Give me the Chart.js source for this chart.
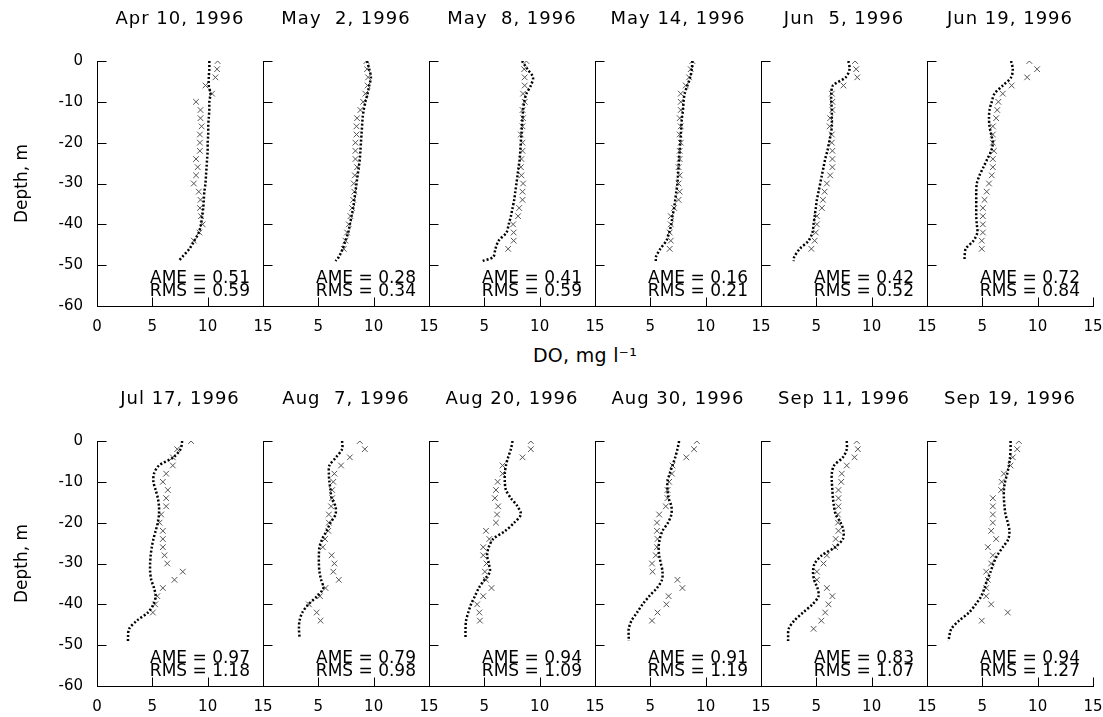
<!DOCTYPE html>
<html><head><meta charset="utf-8">
<script src="https://cdn.jsdelivr.net/npm/chart.js@4.4.1/dist/chart.umd.min.js"></script>
<style>
html,body{margin:0;padding:0;background:#fff;}
#wrap{position:relative;width:1103px;height:717px;overflow:hidden;background:#fff;}
#wrap canvas{position:absolute;}
#xtitle{position:absolute;left:585px;top:343px;transform:translateX(-50%);font:19px "DejaVu Sans";line-height:24px;color:#000;white-space:nowrap;letter-spacing:0.3px;}
</style></head><body><div id="wrap"><div id="xtitle">DO, mg l⁻¹</div></div>
<script>
const panelTitles = ["Apr 10, 1996","May  2, 1996","May  8, 1996","May 14, 1996","Jun  5, 1996","Jun 19, 1996",
                     "Jul 17, 1996","Aug  7, 1996","Aug 20, 1996","Aug 30, 1996","Sep 11, 1996","Sep 19, 1996"];
const ameValues = ["0.51","0.28","0.41","0.16","0.42","0.72","0.97","0.79","0.94","0.91","0.83","0.94"];
const rmsValues = ["0.59","0.34","0.59","0.21","0.52","0.84","1.18","0.98","1.09","1.19","1.07","1.27"];
const xTicks = [0,5,10,15];
const yTicks = [0,-10,-20,-30,-40,-50,-60];
const modelDepths = [0,-2,-4,-6,-8,-10,-12,-14,-16,-18,-20,-22,-24,-26,-28,-30,-32,-34,-36,-38,-40,-42,-44,-46,-48,-49];
const obsDepths = [0,-2,-4,-6,-8,-10,-12,-14,-16,-18,-20,-22,-24,-26,-28,-30,-32,-34,-36,-38,-40,-42,-44,-46];

const apr10Model = [10.15,10.15,10.1,10.1,10.25,10.15,10.15,10.1,10.05,10.05,10.0,10.0,9.95,9.9,9.85,9.8,9.7,9.65,9.6,9.5,9.4,9.2,8.8,8.35,7.7,7.35];
const may2Model  = [9.4,9.6,9.75,9.6,9.45,9.25,9.1,9.0,8.95,8.9,8.85,8.8,8.75,8.65,8.55,8.45,8.35,8.25,8.15,8.0,7.85,7.7,7.45,7.2,6.85,6.55];
const may8Model  = [8.4,8.9,9.4,9.2,8.8,8.6,8.5,8.45,8.4,8.35,8.3,8.25,8.2,8.1,8.0,7.9,7.8,7.7,7.55,7.4,7.2,7.0,6.3,6.0,5.8,4.8];
const may14Model = [8.8,8.75,8.6,8.35,8.1,8.0,7.95,7.85,7.8,7.75,7.7,7.65,7.6,7.55,7.5,7.45,7.35,7.25,7.15,7.0,6.9,6.7,6.45,5.9,5.5,5.5];
const jun5Model  = [7.9,8.0,7.65,6.5,6.35,6.35,6.4,6.4,6.4,6.3,6.15,6.0,5.8,5.65,5.5,5.35,5.2,5.05,4.95,4.85,4.75,4.65,4.3,3.5,3.0,2.95];
const jun19Model = [7.6,7.75,7.6,6.85,6.1,5.85,5.65,5.6,5.65,5.8,5.95,5.8,5.45,5.1,4.75,4.5,4.45,4.45,4.45,4.45,4.5,4.55,4.2,3.5,3.4,3.4];
const jul17Model = [7.7,7.55,6.9,5.6,5.15,5.1,5.3,5.5,5.6,5.6,5.5,5.3,5.1,4.95,4.85,4.8,4.8,4.9,5.15,5.3,5.1,4.6,3.6,2.9,2.8,2.8];
const aug7Model  = [7.15,7.15,6.6,6.0,5.95,6.0,6.1,6.2,6.55,6.55,6.1,5.75,5.35,5.1,5.05,5.05,5.1,5.25,5.45,4.9,4.1,3.55,3.3,3.25,3.3,null];
const aug20Model = [7.55,7.4,7.15,6.95,6.85,6.85,6.95,7.4,8.0,8.3,7.7,6.9,5.8,5.4,5.25,5.4,5.5,5.0,4.5,4.15,3.8,3.55,3.35,3.3,3.3,null];
const aug30Model = [7.6,7.45,7.25,7.0,6.75,6.55,6.55,6.65,6.9,6.9,6.6,6.1,5.85,5.75,5.8,5.95,6.1,6.05,5.6,4.9,4.3,3.8,3.3,3.05,3.05,3.05];
const sep11Model = [7.75,7.75,7.4,6.6,6.4,6.4,6.45,6.5,6.6,6.75,7.2,7.45,7.4,6.7,5.5,4.85,4.7,4.8,5.1,5.2,4.65,3.8,3.0,2.5,2.45,2.45];
const sep19Model = [7.55,7.55,7.5,7.4,7.25,7.05,6.95,6.95,7.0,7.1,7.3,7.45,7.35,6.85,6.35,6.0,5.75,5.45,5.2,4.9,4.4,3.8,2.9,2.2,2.0,1.95];

const apr10Obs = [10.9,10.85,10.7,9.8,10.4,8.95,9.35,9.35,9.45,9.3,9.3,9.3,8.95,9.1,8.95,8.75,9.2,9.35,9.3,9.4,9.55,9.25,8.75,null];
const may2Obs  = [9.35,9.4,9.5,9.45,9.25,9.05,8.8,8.5,8.45,8.45,8.35,8.35,8.35,8.5,8.3,8.2,8.25,8.15,8.05,7.9,7.75,7.6,7.45,7.3];
const may8Obs  = [8.8,8.6,8.65,8.65,8.5,8.65,8.45,8.5,8.45,8.3,8.45,8.45,8.35,8.3,8.35,8.5,8.45,8.45,8.15,8.05,7.6,7.65,7.65,7.15];
const may14Obs = [8.8,8.65,8.5,8.2,7.75,7.75,7.75,7.65,7.75,7.65,7.75,7.65,7.65,7.55,7.65,7.55,7.65,7.55,7.15,6.85,6.85,6.75,6.85,6.75];
const jun5Obs  = [8.5,8.6,8.7,7.45,6.4,6.45,6.45,6.25,6.2,6.4,6.4,6.45,6.45,6.45,6.25,5.95,5.75,5.6,5.5,5.05,5.05,4.95,4.85,4.55];
const jun19Obs = [9.25,9.95,9.05,7.65,6.85,6.45,6.35,6.25,5.95,5.95,5.95,6.05,5.95,5.95,5.85,5.6,5.4,5.2,5.05,5.05,5.05,5.05,4.95,4.95];
const jul17Obs = [8.5,7.25,6.85,6.85,6.25,5.95,6.4,6.25,6.25,5.8,5.65,5.95,5.95,5.95,6.1,6.35,7.75,7.0,5.95,5.45,5.25,5.05,null,null];
const aug7Obs  = [8.75,9.2,7.85,7.05,6.45,6.35,6.25,6.25,6.15,5.95,5.95,5.9,5.6,5.4,6.2,6.45,6.35,6.85,5.65,5.15,4.15,4.85,5.2,null];
const aug20Obs = [9.2,9.2,8.45,6.65,6.65,6.2,6.05,5.95,6.25,6.15,6.05,5.15,5.45,4.9,4.9,5.2,5.05,5.15,5.65,4.9,4.35,4.55,4.6,null];
const aug30Obs = [9.2,8.95,8.25,7.0,6.95,6.7,6.55,6.55,6.4,5.8,5.6,5.6,5.65,5.6,5.5,5.15,5.2,7.45,7.9,6.65,6.45,5.65,5.15,null];
const sep11Obs = [8.65,8.75,8.45,7.75,7.3,7.25,7.0,7.0,7.0,6.95,6.95,7.0,6.75,6.7,5.95,5.65,5.05,5.05,5.95,6.45,6.1,5.8,5.45,4.75];
const sep19Obs = [8.3,8.15,7.75,7.55,6.95,6.75,6.7,5.95,5.95,5.95,5.95,5.8,6.25,5.5,5.95,5.8,5.35,5.5,5.35,5.35,5.8,7.3,4.95,null];

const modelSeries = [apr10Model,may2Model,may8Model,may14Model,jun5Model,jun19Model,jul17Model,aug7Model,aug20Model,aug30Model,sep11Model,sep19Model];
const obsSeries = [apr10Obs,may2Obs,may8Obs,may14Obs,jun5Obs,jun19Obs,jul17Obs,aug7Obs,aug20Obs,aug30Obs,sep11Obs,sep19Obs];

const FONT = '"DejaVu Sans", sans-serif';
const PANEL_W = 166, PANEL_H = 245, X0 = 97, ROW_TOP = [61, 441];
const PT = 55, PR = 30, XH = 38, TICK = 9;

const panelText = {
  id: 'panelText',
  afterDraw(chart, args, opts) {
    const ctx = chart.ctx, ca = chart.chartArea;
    ctx.save();
    // inward tick marks at the scale's tick values
    ctx.strokeStyle = '#000';
    ctx.lineWidth = 1;
    ctx.beginPath();
    const xs = chart.scales.x, ys = chart.scales.y;
    const by = Math.round(ca.bottom) + 0.5, lx = Math.round(ca.left) + 0.5;
    xs.ticks.forEach(t => {
      const px = Math.round(xs.getPixelForValue(t.value)) + 0.5;
      ctx.moveTo(px, by); ctx.lineTo(px, by - TICK);
    });
    ys.ticks.forEach(t => {
      const py = Math.round(ys.getPixelForValue(t.value)) + 0.5;
      ctx.moveTo(lx, py); ctx.lineTo(lx + TICK, py);
    });
    ctx.stroke();
    // title and error statistics
    ctx.fillStyle = '#000';
    ctx.font = '18px ' + FONT;
    ctx.letterSpacing = '1px';
    ctx.textAlign = 'center';
    ctx.textBaseline = 'alphabetic';
    ctx.fillText(opts.title, (ca.left + ca.right) / 2, ca.top - 37);
    ctx.letterSpacing = '0px';
    ctx.font = '17px ' + FONT;
    ctx.textAlign = 'right';
    ctx.fillText('AME = ' + opts.ame, ca.left + 153, ca.top + 222);
    ctx.fillText('RMS = ' + opts.rms, ca.left + 153, ca.top + 235);
    ctx.restore();
  }
};

const wrap = document.getElementById('wrap');
for (let i = 0; i < 12; i++) {
  const r = Math.floor(i / 6), c = i % 6;
  const yW = c === 0 ? X0 : 20;
  const cv = document.createElement('canvas');
  const w = yW + PANEL_W + PR, h = PT + PANEL_H + XH;
  cv.width = w; cv.height = h;
  cv.style.width = w + 'px'; cv.style.height = h + 'px';
  cv.style.left = (X0 + PANEL_W * c - yW) + 'px';
  cv.style.top = (ROW_TOP[r] - PT) + 'px';
  wrap.appendChild(cv);

  const modelPts = modelDepths.map((d, k) => ({x: modelSeries[i][k], y: d})).filter(p => p.x !== null);
  const obsPts = obsDepths.map((d, k) => ({x: obsSeries[i][k], y: d})).filter(p => p.x !== null);

  new Chart(cv, {
    type: 'scatter',
    data: {datasets: [
      {data: modelPts, showLine: true, borderColor: '#000', borderWidth: 2.5, borderDash: [2, 2],
       pointRadius: 0, tension: 0.3, fill: false},
      {data: obsPts, showLine: false, pointStyle: 'crossRot', pointRadius: 4, borderColor: '#555',
       backgroundColor: '#555', pointBorderWidth: 1, borderWidth: 1}
    ]},
    options: {
      responsive: false, animation: false, maintainAspectRatio: false,
      layout: {padding: {top: PT, right: PR, left: 0, bottom: 0}},
      plugins: {legend: {display: false}, tooltip: {enabled: false},
                panelText: {title: panelTitles[i], ame: ameValues[i], rms: rmsValues[i]}},
      scales: {
        x: {type: 'linear', min: 0, max: 15,
            afterBuildTicks: s => { s.ticks = xTicks.map(v => ({value: v})); },
            afterFit: s => { s.height = XH; },
            grid: {drawOnChartArea: false, drawTicks: false},
            border: {display: true, color: '#000', width: 1},
            ticks: {padding: 12, color: '#000', font: {family: FONT, size: 15}, maxRotation: 0, autoSkip: false,
                    callback: v => (c > 0 && v === 0) ? '' : String(v)}},
        y: {type: 'linear', min: -60, max: 0,
            afterBuildTicks: s => { s.ticks = yTicks.map(v => ({value: v})); },
            afterFit: s => { s.width = yW; },
            grid: {drawOnChartArea: false, drawTicks: false},
            border: {display: true, color: '#000', width: 1},
            title: {display: c === 0, text: 'Depth, m', color: '#000', font: {family: FONT, size: 17}, padding: {top: 12, bottom: 0}},
            ticks: {display: c === 0, padding: 14, color: '#000', font: {family: FONT, size: 15}, autoSkip: false,
                    callback: v => String(v)}}
      }
    },
    plugins: [panelText]
  });
}
</script></body></html>
